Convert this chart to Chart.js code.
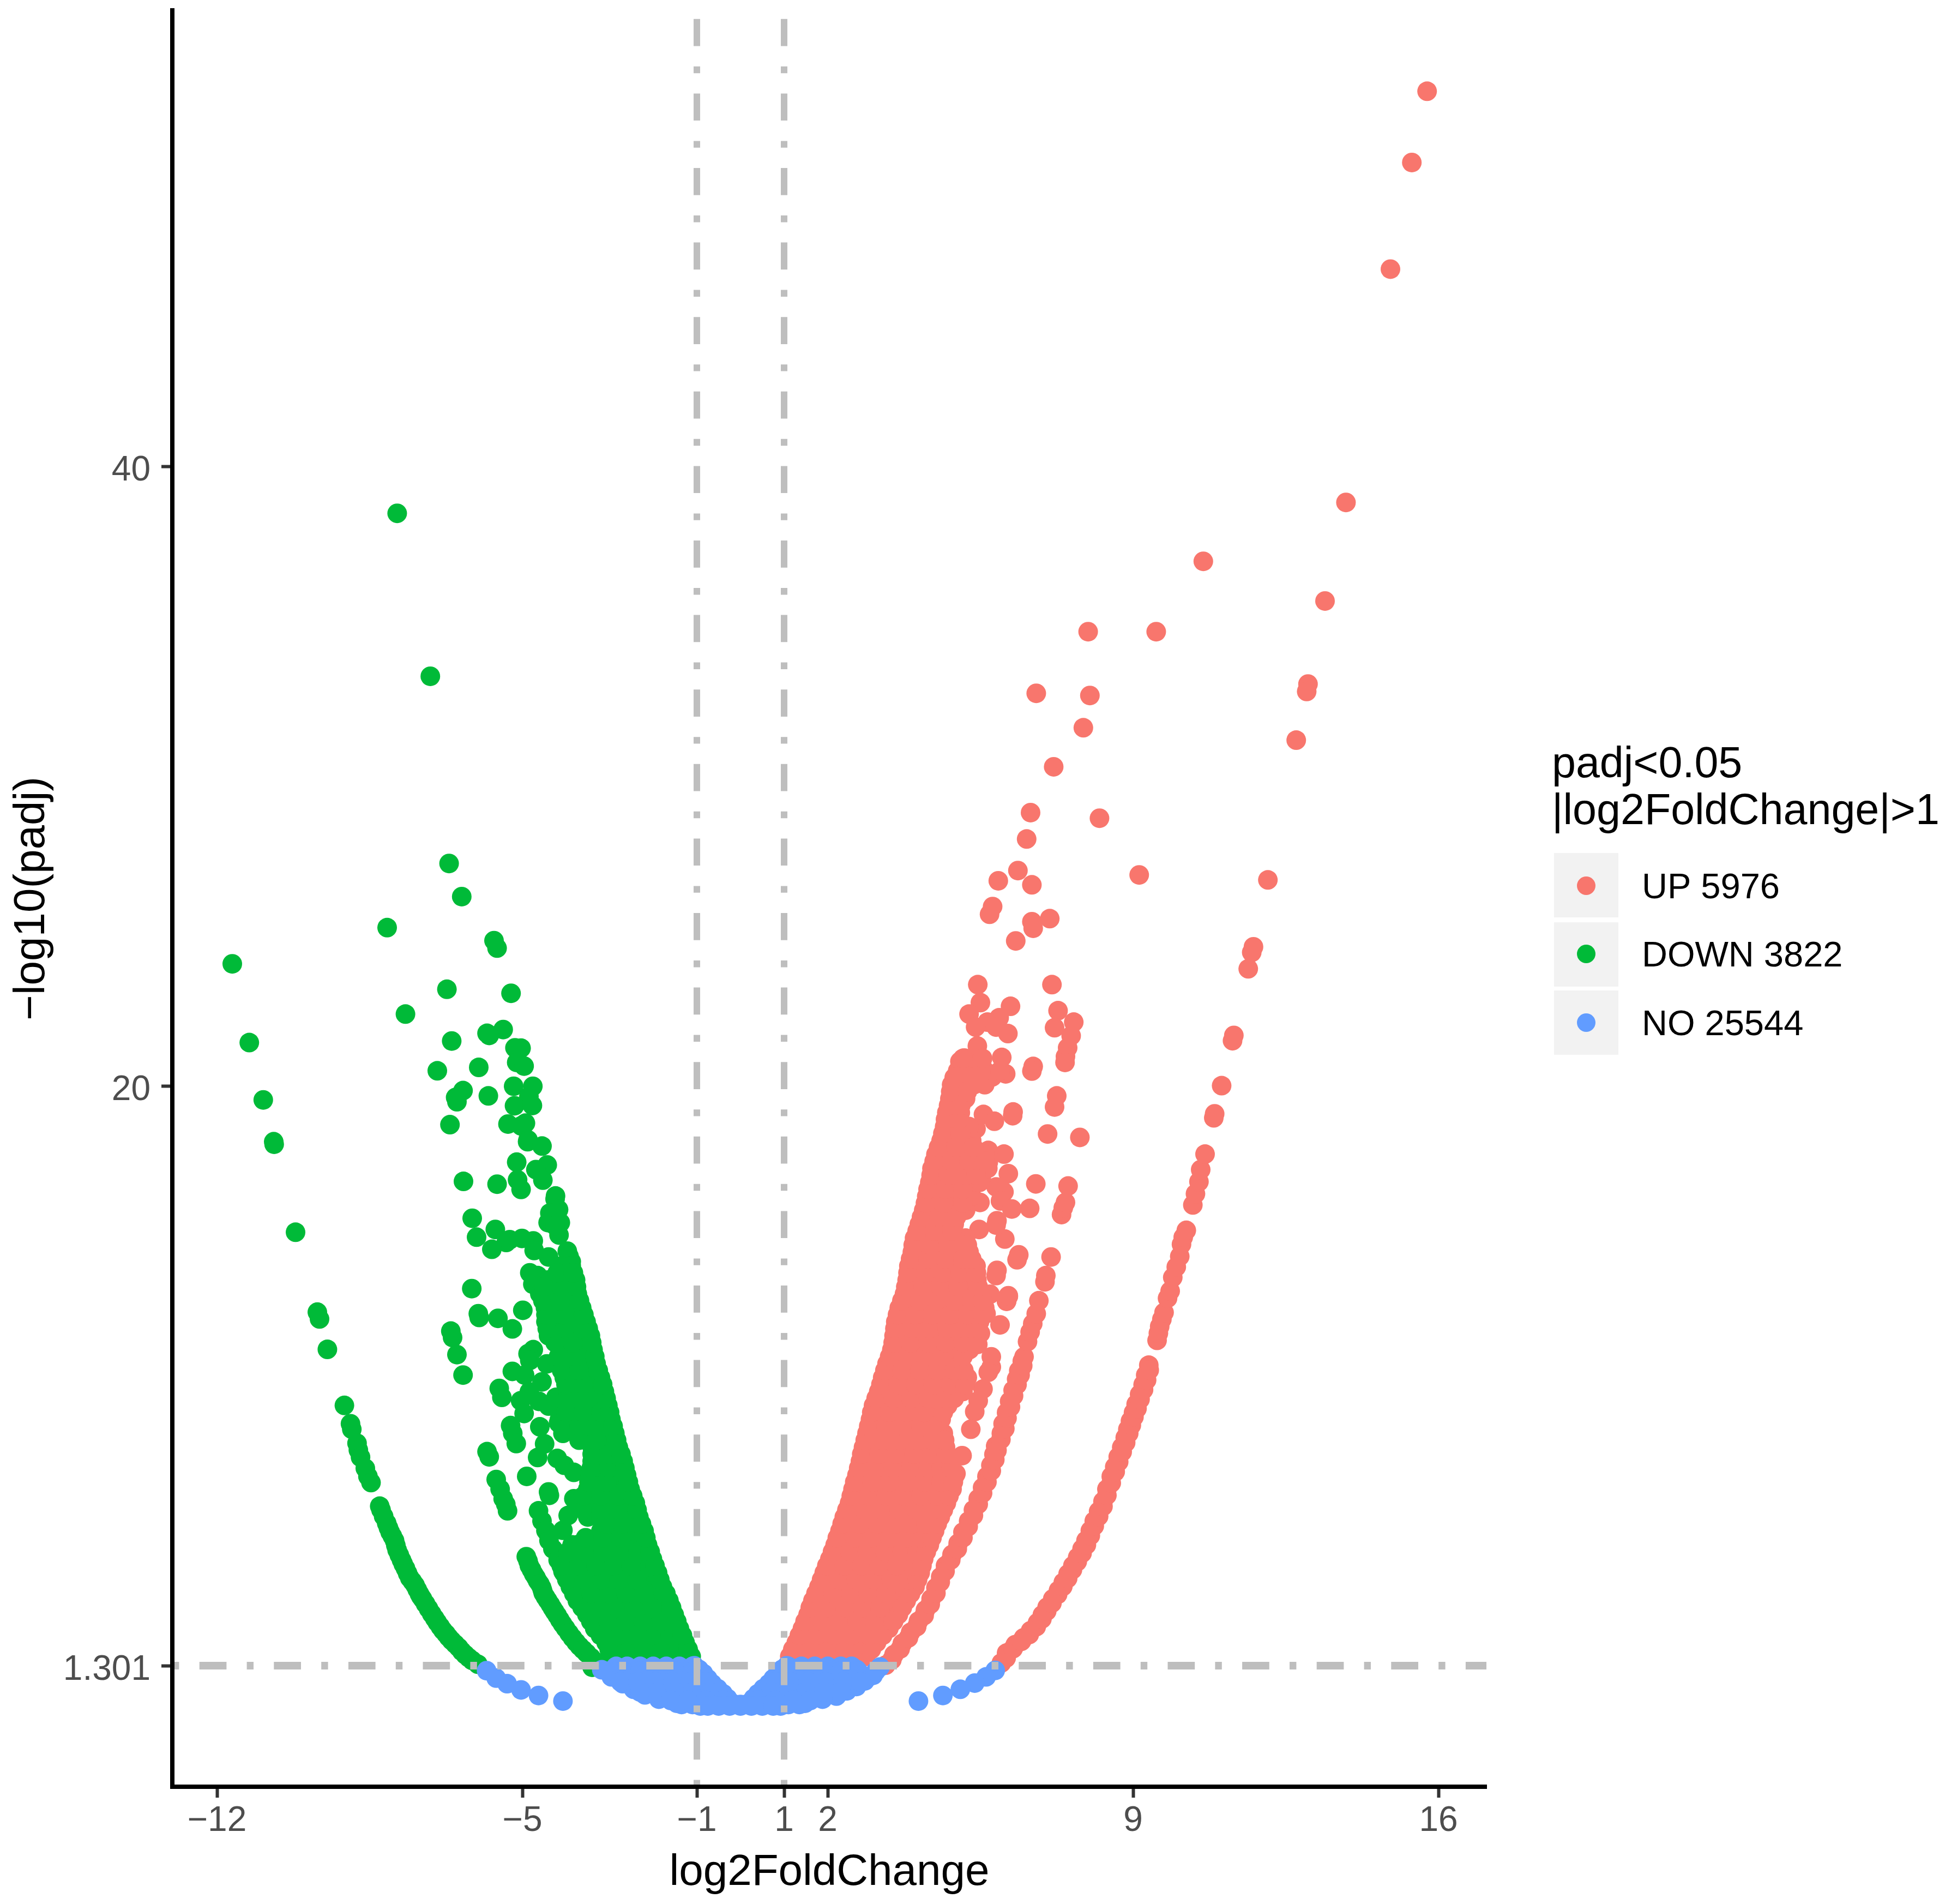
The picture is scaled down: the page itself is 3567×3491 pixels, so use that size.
<!DOCTYPE html>
<html>
<head>
<meta charset="utf-8">
<style>
  html, body { margin: 0; padding: 0; background: #fff; }
  canvas { display: block; }
</style>
<script src="https://cdn.jsdelivr.net/npm/chart.js@4/dist/chart.umd.min.js"></script>
</head>
<body>
<canvas id="myChart" width="3567" height="3491" style="width:3567px;height:3491px"></canvas>
<script>
// axis ticks and thresholds
const xTicks = [-12, -5, -1, 1, 2, 9, 16];
const yTicks = [1.301, 20, 40];
const xRange = [-13.025, 17.1];
const yRange = [-2.605, 54.72];
const foldCut = [-1, 1];
const padjCut = 1.301;

const legendTitle = ['padj<0.05', '|log2FoldChange|>1'];
const legendLabels = ['UP 5976', 'DOWN 3822', 'NO 25544'];

// UP: scattered points read one by one [log2FC, -log10(padj)]
const upScatter = [
  [15.74,52.11],[15.39,49.81],[14.90,46.37],[13.88,38.84],[10.61,36.94],[13.40,35.66],[7.97,34.67],[9.53,34.67],
  [13.01,32.98],[12.98,32.74],[6.78,32.68],[8.01,32.61],[7.86,31.57],[12.74,31.17],[7.18,30.31],[6.65,28.83],
  [8.23,28.65],[6.56,27.98],[6.36,26.96],[5.91,26.63],[6.68,26.50],[9.14,26.82],[12.09,26.66],[5.78,25.80],
  [5.71,25.55],[6.68,25.31],[7.09,25.41],[6.71,25.10],[6.31,24.69],[11.76,24.50],[11.72,24.32],[11.64,23.79],
  [5.44,23.28],[7.14,23.28],[5.50,22.70],[6.19,22.58],[7.28,22.44],[5.24,22.33],[7.64,22.07],[5.93,22.21],
  [5.66,22.07],[5.39,21.91],[5.86,21.91],[6.13,21.70],[7.20,21.89],[7.58,21.63],[5.43,21.30],[7.50,21.24],
  [5.99,20.93],[7.45,20.96],[7.44,20.77],[6.71,20.64],[6.68,20.49],[5.13,20.91],[5.03,20.80],[5.53,20.86],
  [6.08,20.40],[5.77,20.30],[7.78,18.35],[7.04,18.46],[7.20,19.33],[7.25,19.69],[6.25,19.17],[6.24,19.05],
  [5.57,19.09],[5.82,18.87],[6.04,17.81],[6.14,17.18],[6.06,15.07],[5.88,15.66],[5.86,15.52],[5.47,15.38],
  [5.49,16.25],[6.04,16.59],[5.86,16.75],[5.96,16.30],[5.68,17.93],[5.68,17.54],[5.52,17.03],[5.40,18.63],
  [5.20,16.53],[6.77,16.85],[6.63,16.06],[6.22,16.04],[6.38,14.56],[6.34,14.40],[5.88,14.06],[5.86,13.89],
  [6.14,13.22],[6.10,13.07],[5.95,12.30],[5.75,10.94],[6.10,13.06],[6.14,13.24],[5.63,12.66],[5.72,13.29],
  [5.44,11.67],[5.50,12.03],[5.75,11.27],[5.68,10.77],[5.56,10.23],[5.45,9.85],[5.37,9.50],[5.28,8.93],[5.08,8.08],[4.94,7.50]
];

// UP: the narrow middle arc
const upArcMid = [
  [3.33,1.32],[3.52,1.66],[3.71,2.02],[3.90,2.38],[4.08,2.74],[4.24,3.10],[4.37,3.46],[4.48,3.82],[4.59,4.17],
  [4.70,4.53],[4.85,4.89],[4.99,5.25],[5.10,5.61],[5.23,5.97],[5.34,6.33],[5.45,6.69],[5.55,7.05],[5.65,7.41],
  [5.74,7.77],[5.81,8.12],[5.85,8.39],[5.98,8.80],[6.02,9.11],[6.10,9.47],[6.17,9.83],[6.25,10.19],[6.33,10.55],
  [6.38,10.82],[6.46,11.13],[6.50,11.27],[6.58,11.76],[6.64,12.07],[6.70,12.34],[6.78,12.66],[6.84,13.08],
  [6.98,13.69],[7.00,13.89],[7.12,14.49],[7.36,15.86],[7.40,16.08],[7.45,16.25],[7.51,16.78],
  [3.47,1.49],[3.66,1.84],[3.85,2.20],[4.04,2.56],[4.21,2.92],[4.35,3.28],[4.48,3.64],[4.58,4.00],[4.69,4.35],
  [4.82,4.71],[4.97,5.07],[5.10,5.43],[5.22,5.79],[5.34,6.15],[5.45,6.51],[5.55,6.87],[5.65,7.23],[5.75,7.59],
  [5.83,7.95],[5.88,8.25],[5.97,8.60],[6.06,8.95],[6.11,9.29],[6.19,9.65],[6.26,10.01],[6.34,10.37],[6.41,10.68],[6.47,10.98]
];

// UP: the outer arc
const upArcOuter = [
  [5.98,1.39],[6.10,1.71],[6.30,1.98],[6.49,2.20],[6.65,2.43],[6.81,2.69],[6.92,2.94],[7.03,3.19],[7.16,3.46],
  [7.29,3.73],[7.40,3.99],[7.51,4.26],[7.62,4.53],[7.73,4.80],[7.83,5.07],[7.92,5.34],[8.02,5.66],[8.11,5.97],
  [8.21,6.28],[8.31,6.60],[8.40,7.00],[8.50,7.41],[8.58,7.72],[8.66,8.04],[8.74,8.35],[8.82,8.66],[8.88,8.93],
  [8.94,9.20],[9.01,9.47],[9.07,9.74],[9.15,10.06],[9.23,10.37],[9.29,10.68],[9.36,11.00],[9.55,11.80],[9.58,12.03],
  [9.61,12.25],[9.66,12.48],[9.71,12.70],[9.79,13.16],[9.85,13.39],[9.91,13.83],[9.99,14.17],[10.07,14.51],
  [10.11,14.90],[10.15,15.13],[10.22,15.35],[10.37,16.17],[10.43,16.53],[10.51,16.92],[10.55,17.31],[10.65,17.81],
  [10.85,18.98],[10.87,19.11],[11.03,20.02],[11.28,21.47],[11.31,21.64],
  [6.09,1.55],[6.25,1.85],[6.44,2.09],[6.62,2.31],[6.78,2.56],[6.91,2.81],[7.02,3.06],[7.14,3.32],[7.27,3.60],
  [7.39,3.86],[7.50,4.12],[7.61,4.40],[7.72,4.66],[7.83,4.93],[7.93,5.20],[8.02,5.50],[8.11,5.81],[8.21,6.12],
  [8.31,6.44],[8.40,6.80],[8.50,7.20],[8.59,7.56],[8.67,7.88],[8.75,8.20],[8.83,8.50],[8.90,8.80],[8.96,9.06],
  [9.02,9.33],[9.09,9.60],[9.16,9.90],[9.24,10.21],[9.31,10.52],[9.37,10.84]
];

// UP: the dense body, listed by rows of -log10(padj)
const upRowY = [
  1.6,2.05,2.5,2.95,3.4,3.85,4.3,4.75,5.2,5.65,6.1,6.55,7.0,7.45,7.9,8.35,8.8,9.25,9.7,10.15,10.6,11.05,
  11.5,11.95,12.4,12.85,13.3,13.75,14.2,14.65,15.1,15.55,16.0,16.45,16.9,17.35,17.8,18.25,18.7,19.15,19.6,20.05,20.5,20.9,
  1.83,2.28,2.73,3.18,3.63,4.08,4.53,4.98,5.43,5.88,6.33,6.78,7.23,7.68,8.13,8.58,9.03,9.48,9.93,10.38,10.83,11.28,
  11.73,12.18,12.63,13.08,13.53,13.98,14.43,14.88,15.33,15.78,16.23,16.68,17.13,17.58,18.03,18.48,18.93,19.38,19.83,20.28
];
const upRowX = [
  [1.13,1.43,1.73,2.03,2.33,2.63,2.87],
  [1.28,1.58,1.88,2.18,2.48,2.78,3.12],
  [1.42,1.72,2.02,2.32,2.62,2.92,3.17,3.40],
  [1.55,1.85,2.15,2.45,2.75,3.05,3.35,3.62],
  [1.66,1.95,2.25,2.55,2.85,3.15,3.45,3.80],
  [1.80,2.10,2.40,2.70,3.00,3.30,3.65,4.00],
  [1.92,2.22,2.52,2.82,3.12,3.42,3.77,4.12],
  [2.05,2.35,2.65,2.95,3.25,3.55,3.85,4.20],
  [2.17,2.47,2.77,3.07,3.37,3.67,3.97,4.33],
  [2.28,2.58,2.88,3.18,3.48,3.78,4.10,4.45],
  [2.38,2.70,3.00,3.30,3.60,3.90,4.25,4.58],
  [2.50,2.80,3.10,3.40,3.70,4.00,4.35,4.72],
  [2.58,2.90,3.20,3.50,3.80,4.10,4.45,4.85],
  [2.67,3.00,3.30,3.60,3.90,4.20,4.55,4.92],
  [2.75,3.05,3.35,3.65,3.95,4.25,4.55,4.75],
  [2.82,3.15,3.45,3.75,4.05,4.35,4.70],
  [2.90,3.20,3.50,3.80,4.10,4.40,4.65],
  [2.98,3.30,3.60,3.90,4.20,4.60],
  [3.05,3.35,3.65,3.95,4.25,4.50,4.75],
  [3.17,3.47,3.77,4.07,4.37,4.67,4.90,5.10],
  [3.26,3.56,3.86,4.16,4.46,4.76,5.00,5.20],
  [3.36,3.66,3.96,4.26,4.56,4.80,5.04],
  [3.47,3.77,4.07,4.37,4.67,4.97,5.25],
  [3.52,3.85,4.15,4.45,4.75,5.05,5.40],
  [3.56,3.90,4.20,4.50,4.80,5.10,5.48],
  [3.64,3.95,4.25,4.55,4.85,5.20,5.60],
  [3.76,4.05,4.35,4.65,4.95,5.25,5.48],
  [3.82,4.10,4.40,4.70,5.00,5.20,5.42],
  [3.86,4.20,4.50,4.80,5.10,5.40],
  [3.94,4.25,4.55,4.85,5.24],
  [3.99,4.30,4.60,4.90,5.16],
  [4.10,4.40,4.70,4.90],
  [4.20,4.50,4.80,5.16],
  [4.27,4.55,4.85,5.10,5.30],
  [4.34,4.65,4.95,5.25,5.48],
  [4.39,4.70,5.00,5.30,5.67],
  [4.48,4.80,5.10,5.40,5.60],
  [4.60,4.90,5.10,5.30],
  [4.68,4.95,5.24],
  [4.73,5.04],
  [4.80,5.16],
  [4.84,5.15,5.35,5.60],
  [4.98,5.30,5.60,5.95],
  [5.10,5.55],
  [1.20,1.60,2.00,2.40,2.80,3.00],
  [1.35,1.75,2.15,2.55,2.95,3.26],
  [1.48,1.88,2.28,2.68,3.08,3.51],
  [1.60,2.00,2.40,2.80,3.20,3.71],
  [1.73,2.13,2.53,2.93,3.33,3.90],
  [1.86,2.26,2.66,3.06,3.46,3.85,4.06],
  [1.98,2.38,2.78,3.18,3.58,3.95,4.16],
  [2.11,2.51,2.91,3.31,3.71,4.05,4.26],
  [2.22,2.62,3.02,3.42,3.82,4.15,4.39],
  [2.33,2.73,3.13,3.53,3.93,4.25,4.51],
  [2.44,2.84,3.24,3.64,4.04,4.40,4.65],
  [2.54,2.94,3.34,3.74,4.14,4.50,4.78],
  [2.62,3.02,3.42,3.82,4.22,4.60,4.88],
  [2.71,3.11,3.51,3.91,4.31,4.60,4.83],
  [2.78,3.18,3.58,3.98,4.38,4.72],
  [2.86,3.26,3.66,4.06,4.40,4.68],
  [2.94,3.34,3.74,4.14,4.40],
  [3.01,3.41,3.81,4.21,4.65],
  [3.11,3.51,3.91,4.31,4.70,4.90],
  [3.22,3.62,4.02,4.42,4.82,5.15],
  [3.31,3.71,4.11,4.51,4.91,5.12],
  [3.42,3.82,4.22,4.62,5.10],
  [3.50,3.90,4.30,4.70,5.10,5.33],
  [3.54,3.94,4.34,4.74,5.14,5.44],
  [3.60,4.00,4.40,4.80,5.20,5.55],
  [3.70,4.10,4.50,4.90,5.30,5.55],
  [3.79,4.19,4.59,4.99,5.45],
  [3.84,4.24,4.64,5.04,5.41],
  [3.90,4.30,4.70,5.10,5.30],
  [3.96,4.36,4.76,5.20],
  [4.05,4.45,4.85],
  [4.15,4.55,4.95],
  [4.24,4.64,5.10],
  [4.30,4.70,5.10],
  [4.37,4.77,5.17,5.40],
  [4.44,4.84,5.24,5.60],
  [4.54,4.94,5.34],
  [4.64,5.04],
  [4.70,5.00],
  [4.77,5.05],
  [4.82,5.20],
  [4.90,5.30]
];

// DOWN: scattered points read one by one
const downScatter = [
  [-7.87,38.49],[-7.11,33.23],[-6.68,27.19],[-6.39,26.12],[-8.10,25.12],[-5.65,24.70],[-5.58,24.46],[-11.65,23.95],
  [-6.73,23.13],[-5.26,23.00],[-7.68,22.33],[-5.44,21.83],[-5.81,21.71],[-5.76,21.64],[-11.26,21.41],[-6.62,21.46],
  [-5.17,21.24],[-5.03,21.23],[-5.13,20.77],[-4.96,20.65],[-6.95,20.50],[-6.00,20.61],[-5.20,20.00],[-4.76,20.00],
  [-6.36,19.86],[-6.53,19.64],[-6.50,19.50],[-5.78,19.69],[-10.94,19.56],[-4.85,19.67],[-5.18,19.37],[-4.77,19.38],
  [-6.66,18.76],[-5.33,18.78],[-4.93,18.81],[-5.03,18.72],[-4.87,18.27],[-4.88,18.21],[-4.55,18.07],[-10.70,18.21],
  [-10.69,18.13],[-5.13,17.55],[-4.43,17.46],[-4.69,17.31],[-5.11,16.98],[-4.53,16.97],[-6.35,16.93],[-5.58,16.84],
  [-5.03,16.67],[-4.24,16.46],[-4.25,16.36],[-4.17,16.02],[-4.37,15.91],[-4.41,15.60],[-4.13,15.60],[-4.16,15.20],
  [-4.25,15.50],[-6.15,15.74],[-10.20,15.29],[-5.62,15.38],[-6.05,15.13],[-5.29,15.05],[-5.37,14.96],[-5.01,15.09],
  [-4.75,15.01],[-5.70,14.74],[-4.73,14.70],[-4.40,14.49],[-3.97,14.68],[-3.93,14.51],[-3.88,14.34],[-4.83,13.98],
  [-4.65,13.89],[-4.76,13.61],[-6.16,13.47],[-9.70,12.71],[-9.65,12.49],[-6.01,12.66],[-5.99,12.54],[-5.56,12.51],
  [-4.99,12.77],[-5.23,12.17],[-6.64,12.10],[-6.60,11.89],[-9.47,11.51],[-6.50,11.34],[-4.75,11.50],[-4.87,11.37],
  [-6.36,10.68],[-4.83,11.15],[-4.44,11.04],[-5.23,10.80],[-4.95,10.68],[-4.55,10.46],[-5.53,10.25],[-5.47,9.96],
  [-4.84,10.14],[-5.04,9.85],[-4.96,9.44],[-4.62,9.83],[-4.40,9.68],[-4.23,9.96],[-5.27,9.05],[-5.22,8.80],
  [-5.14,8.47],[-4.60,9.01],[-4.17,9.14],[-4.49,8.46],[-4.65,8.02],[-5.81,8.21],[-5.76,8.04],[-4.20,7.99],
  [-4.04,7.77],[-3.82,7.54],[-4.90,7.41],[-5.60,7.31],[-5.51,7.00],[-5.44,6.69],[-5.38,6.51],[-5.34,6.30],
  [-4.38,6.80],[-4.40,6.91],[-4.63,6.30],[-4.55,5.97],[-4.46,5.66],[-4.39,5.34],[-4.30,5.07],[-4.07,5.67],
  [-3.95,6.15],[-3.82,6.69],[-3.72,5.21],[-3.85,4.94],[-4.18,4.71],[-4.07,4.35],[-3.47,7.23]
];

// DOWN: the narrow middle arc
const downArcMid = [
  [-4.91,4.82],[-4.84,4.53],[-4.74,4.26],[-4.65,4.04],[-4.56,3.83],[-4.52,3.64],[-4.42,3.41],[-4.36,3.28],[-4.26,3.05],
  [-4.14,2.78],[-4.01,2.51],[-3.85,2.20],[-3.69,1.93],[-3.53,1.71],[-3.34,1.44],[-3.40,1.25],
  [-4.87,4.68],[-4.79,4.40],[-4.69,4.15],[-4.60,3.94],[-4.54,3.74],[-4.47,3.52],[-4.31,3.16],[-4.20,2.92],[-4.08,2.65],
  [-3.93,2.35],[-3.77,2.06],[-3.61,1.82],[-3.43,1.57]
];

// DOWN: the outer arc
const downArcOuter = [
  [-9.08,9.70],[-8.94,9.11],[-8.91,8.93],[-8.79,8.48],[-8.76,8.26],[-8.71,8.03],[-8.60,7.67],[-8.54,7.41],[-8.47,7.21],
  [-8.27,6.45],[-8.24,6.33],[-8.11,5.90],[-8.03,5.61],[-7.93,5.34],[-7.87,5.03],[-7.77,4.71],[-7.68,4.44],[-7.58,4.13],
  [-7.46,3.90],[-7.36,3.62],[-7.29,3.46],[-7.15,3.14],[-7.01,2.83],[-6.88,2.56],[-6.75,2.33],[-6.62,2.11],[-6.46,1.89],
  [-6.31,1.66],[-6.15,1.47],[-6.02,1.35],
  [-8.18,6.12],[-8.07,5.75],[-7.98,5.48],[-7.90,5.18],[-7.82,4.87],[-7.73,4.58],[-7.63,4.28],[-7.52,4.02],[-7.41,3.76],
  [-7.33,3.54],[-7.22,3.30],[-7.08,2.98],[-6.95,2.70],[-6.82,2.44],[-6.69,2.22],[-6.54,2.00],[-6.39,1.77],[-6.23,1.56]
];

// DOWN: the dense body, listed by rows
const downRowY = [
  1.6,2.05,2.5,2.95,3.4,3.85,4.3,4.75,5.2,5.65,6.1,6.55,7.0,7.45,7.9,8.35,8.8,9.25,9.7,10.15,10.6,11.05,11.5,11.95,12.4,12.85,13.3,13.75,14.2,
  1.83,2.28,2.73,3.18,3.63,4.08,4.53,4.98,5.43,5.88,6.33,6.78,7.23,7.68,8.13,8.58,9.03,9.48,9.93,10.38,10.83,11.28,11.73,12.18,12.63,13.08,13.53,13.98
];
const downRowX = [
  [-2.94,-2.62,-2.32,-2.02,-1.72,-1.42,-1.13],
  [-3.08,-2.75,-2.45,-2.15,-1.85,-1.55,-1.27],
  [-3.34,-3.00,-2.70,-2.40,-2.10,-1.80,-1.60,-1.40],
  [-3.52,-3.20,-2.90,-2.60,-2.30,-2.00,-1.75,-1.52],
  [-3.74,-3.40,-3.10,-2.80,-2.50,-2.20,-1.90,-1.64],
  [-3.90,-3.55,-3.25,-2.95,-2.65,-2.35,-2.05,-1.79],
  [-4.05,-3.70,-3.40,-3.10,-2.80,-2.50,-2.20,-1.90],
  [-4.17,-3.85,-3.55,-3.25,-2.95,-2.65,-2.35,-2.02],
  [-3.86,-3.55,-3.25,-2.95,-2.65,-2.40,-2.13],
  [-3.20,-2.90,-2.55,-2.21],
  [-3.50,-3.20,-2.95,-2.65,-2.33],
  [-3.72,-3.40,-3.05,-2.75,-2.41],
  [-3.50,-3.20,-2.85,-2.53],
  [-3.44,-3.15,-2.90,-2.61],
  [-3.40,-3.10,-2.90,-2.69],
  [-3.40,-3.10,-2.80],
  [-4.07,-3.75,-3.45,-3.15,-2.88],
  [-4.15,-3.85,-3.55,-3.25,-2.97],
  [-3.88,-3.60,-3.30,-3.04],
  [-3.95,-3.65,-3.38,-3.12],
  [-4.04,-3.75,-3.45,-3.21],
  [-4.20,-3.90,-3.60,-3.31],
  [-4.14,-3.85,-3.60,-3.38],
  [-4.40,-4.10,-3.75,-3.44],
  [-4.46,-4.15,-3.85,-3.54],
  [-4.47,-4.18,-3.90,-3.64],
  [-4.60,-4.30,-4.00,-3.74],
  [-4.40,-4.10,-3.78],
  [-4.10,-3.88],
  [-3.01,-2.61,-2.21,-1.81,-1.41,-1.20],
  [-3.21,-2.81,-2.41,-2.01,-1.61,-1.33],
  [-3.43,-3.03,-2.63,-2.23,-1.83,-1.46],
  [-3.63,-3.23,-2.83,-2.43,-2.03,-1.58],
  [-3.82,-3.42,-3.02,-2.62,-2.22,-1.71],
  [-3.98,-3.58,-3.18,-2.78,-2.38,-1.85],
  [-4.11,-3.71,-3.31,-2.91,-2.51,-1.96],
  [-3.95,-3.55,-3.15,-2.75,-2.35,-2.07],
  [-3.55,-3.15,-2.75,-2.17],
  [-3.10,-2.70,-2.27],
  [-3.60,-3.20,-2.80,-2.37],
  [-3.60,-3.20,-2.80,-2.47],
  [-3.47,-3.07,-2.57],
  [-3.42,-3.02,-2.65],
  [-3.40,-3.00,-2.74],
  [-3.70,-3.30,-2.84],
  [-4.10,-3.70,-3.30,-2.92],
  [-4.00,-3.60,-3.20,-3.00],
  [-3.90,-3.50,-3.08],
  [-4.00,-3.60,-3.16],
  [-4.10,-3.70,-3.26],
  [-4.17,-3.77,-3.34],
  [-4.25,-3.85,-3.41],
  [-4.43,-4.03,-3.63,-3.49],
  [-4.46,-4.06,-3.59],
  [-4.53,-4.13,-3.69],
  [-4.50,-4.10,-3.76],
  [-4.20,-3.83]
];

// NO: tails and edges of the blue band
const noScatter = [
  [-5.82,1.14],[-5.60,0.90],[-5.35,0.72],[-5.03,0.52],[-4.63,0.34],[-4.07,0.16],
  [5.84,1.15],[5.63,0.94],[5.37,0.74],[5.04,0.54],[4.64,0.34],[4.08,0.16],
  [-3.18,1.17],[-2.96,0.94],[-2.70,0.72],[-2.45,0.54],[-2.19,0.36],[-1.87,0.22],[-1.46,0.09],[-1.27,0.13],[-0.92,0.00],
  [3.20,1.26],[3.04,0.99],[2.85,0.81],[2.66,0.63],[2.44,0.49],[2.20,0.32],[1.88,0.22],[1.48,0.09],[1.28,0.13],[0.92,0.00],
  [2.66,1.18],[-1.06,1.30],[-0.85,1.05],[-0.65,0.72],[-0.40,0.40],[-0.20,0.10],[1.06,1.30],[0.85,1.05],[0.65,0.72],[0.40,0.40],[0.20,0.10],
  [-0.30,0.25],[0.30,0.25],[-0.52,0.56],[0.52,0.56],[-0.75,0.88],[0.75,0.88],[-0.95,1.18],[0.95,1.18]
];

// NO: the dense band, listed by rows
const noRowY = [1.28,0.95,0.6,0.3,0.05,1.12,0.78,0.45,0.18,0];
const noRowX = [
  [-2.85,-2.60,-2.30,-2.00,-1.70,-1.40,-1.10,1.10,1.40,1.70,2.00,2.30,2.55],
  [-2.95,-2.65,-2.35,-2.05,-1.75,-1.45,-1.15,-0.90,0.90,1.15,1.45,1.75,2.05,2.35,2.65,2.95],
  [-2.45,-2.15,-1.85,-1.55,-1.25,-0.95,-0.65,0.65,0.95,1.25,1.55,1.85,2.15,2.45],
  [-1.85,-1.55,-1.25,-0.95,-0.65,-0.38,0.38,0.65,0.95,1.25,1.55,1.85],
  [-1.35,-1.10,-0.85,-0.60,-0.35,-0.15,0,0.15,0.35,0.60,0.85,1.10,1.35],
  [-3.05,-2.70,-2.30,-1.90,-1.50,-1.10,1.10,1.50,1.90,2.30,2.70,3.10],
  [-2.75,-2.35,-1.95,-1.55,-1.15,-0.80,0.80,1.15,1.55,1.95,2.35,2.75],
  [-2.30,-1.90,-1.50,-1.10,-0.70,-0.50,0.50,0.70,1.10,1.50,1.90,2.30],
  [-1.60,-1.20,-0.80,-0.40,0.40,0.80,1.20,1.60],
  [-0.75,-0.50,-0.25,0,0.25,0.50,0.75]
];

const pairs = list => list.map(p => ({x: p[0], y: p[1]}));
const rows = (ys, xs) => xs.flatMap((row, i) => row.map(x => ({x: x, y: ys[i]})));

const font = 'Liberation Sans, Arial, sans-serif';
const colors = ['#F8766D', '#00BA38', '#619CFF'];
const minusSign = v => String(v).replace('-', '\u2212');

const cutLine = (data, width) => ({
  type: 'scatter', data: data, showLine: true, pointRadius: 0, order: 0,
  borderColor: '#BEBEBE', borderWidth: width, borderDash: [12.4, 37.3, 49.7, 37.2]
});

const pointSet = (label, data, color, order) => ({
  label: label, data: data, order: order,
  backgroundColor: color, pointRadius: 18, pointBorderWidth: 0, pointHoverRadius: 18
});

// legend of the original: grey key boxes, dots and two line title
const sideLegend = {
  id: 'sideLegend',
  afterDraw(chart) {
    const ctx = chart.ctx;
    ctx.save();
    ctx.fillStyle = '#000';
    ctx.textBaseline = 'alphabetic';
    ctx.textAlign = 'left';
    ctx.font = '79px ' + font;
    ctx.fillText(legendTitle[0], 2846, 1425);
    ctx.fillText(legendTitle[1], 2846, 1511);
    const boxTops = [1564, 1691, 1816];
    const dotY = [1624, 1749, 1875];
    legendLabels.forEach((text, i) => {
      ctx.fillStyle = '#F2F2F2';
      ctx.fillRect(2850, boxTops[i], 118, 118);
      ctx.fillStyle = colors[i];
      ctx.beginPath();
      ctx.arc(2909, dotY[i], 17, 0, Math.PI * 2);
      ctx.fill();
      ctx.fillStyle = '#000';
      ctx.font = '65px ' + font;
      ctx.fillText(text, 3011, dotY[i] + 23);
    });
    ctx.restore();
  }
};

const noMargins = axis => {
  axis.paddingTop = 0; axis.paddingBottom = 0; axis.paddingLeft = 0; axis.paddingRight = 0;
};

// the y tick labels sit a little low in the original
const nudgeYLabels = axis => {
  const compute = axis._computeLabelItems;
  axis._computeLabelItems = function (area) {
    const items = compute.call(this, area);
    items.forEach(item => { item.options.translation[1] += 4; });
    return items;
  };
};

const ctx = document.querySelector('#myChart').getContext('2d');

new Chart(ctx, {
  type: 'scatter',
  data: {
    datasets: [
      cutLine([{x: foldCut[0], y: yRange[0]}, {x: foldCut[0], y: yRange[1]}], 12),
      cutLine([{x: foldCut[1], y: yRange[0]}, {x: foldCut[1], y: yRange[1]}], 12),
      cutLine([{x: xRange[0], y: padjCut}, {x: xRange[1], y: padjCut}], 14),
      pointSet(legendLabels[2], pairs(noScatter).concat(rows(noRowY, noRowX)), colors[2], 1),
      pointSet(legendLabels[0], pairs(upScatter).concat(pairs(upArcMid), pairs(upArcOuter), rows(upRowY, upRowX)), colors[0], 2),
      pointSet(legendLabels[1], pairs(downScatter).concat(pairs(downArcMid), pairs(downArcOuter), rows(downRowY, downRowX)), colors[1], 3)
    ]
  },
  plugins: [sideLegend],
  options: {
    responsive: false,
    animation: false,
    devicePixelRatio: 1,
    layout: {padding: {left: 0, top: 19, right: 841, bottom: 0}},
    plugins: {legend: {display: false}, tooltip: {enabled: false}},
    scales: {
      x: {
        type: 'linear',
        min: xRange[0],
        max: xRange[1],
        afterBuildTicks: axis => { axis.ticks = xTicks.map(v => ({value: v})); },
        afterFit: axis => { axis.height = 215; noMargins(axis); },
        grid: {drawOnChartArea: false, tickLength: 20, tickWidth: 6, tickColor: '#333333'},
        border: {color: '#000', width: 8, z: 1},
        ticks: {
          autoSkip: false, maxRotation: 0, padding: 5, color: '#4D4D4D',
          font: {family: font, size: 64},
          callback: v => minusSign(v)
        },
        title: {
          display: true, text: 'log2FoldChange', color: '#000',
          font: {family: font, size: 80}, padding: {top: 0, bottom: 9}
        }
      },
      y: {
        type: 'linear',
        min: yRange[0],
        max: yRange[1],
        afterBuildTicks: axis => { axis.ticks = yTicks.map(v => ({value: v})); nudgeYLabels(axis); },
        afterFit: axis => { axis.width = 316; noMargins(axis); },
        grid: {drawOnChartArea: false, tickLength: 20, tickWidth: 6, tickColor: '#333333'},
        border: {color: '#000', width: 8, z: 1},
        ticks: {
          autoSkip: false, padding: 20, color: '#4D4D4D',
          font: {family: font, size: 64},
          callback: v => String(v)
        },
        title: {
          display: true, text: '\u2212log10(padj)', color: '#000',
          font: {family: font, size: 80}, padding: {top: 11, bottom: 0}
        }
      }
    }
  }
});
</script>
</body>
</html>
